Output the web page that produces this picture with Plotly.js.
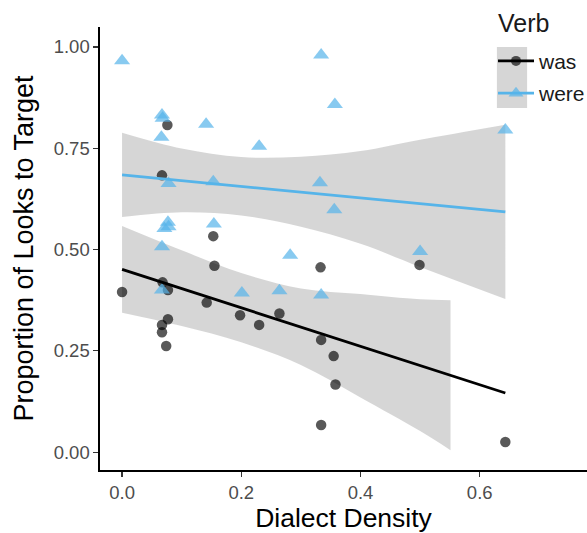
<!DOCTYPE html>
<html>
<head>
<meta charset="utf-8">
<script src="https://cdn.plot.ly/plotly-3.0.1.min.js"></script>
<style>html,body{margin:0;padding:0;background:#fff;}#chart{width:587px;height:533px;}</style>
</head>
<body>
<div id="chart"></div>
<script>
// ---- data ----
const seriesNames = ["was", "were"];
const legendTitle = "Verb";

const wasX = [0.000, 0.067, 0.076, 0.068, 0.077, 0.077, 0.067, 0.067, 0.074, 0.142, 0.153, 0.155, 0.198, 0.230, 0.264, 0.333, 0.334, 0.355, 0.358, 0.334, 0.499, 0.643];
const wasY = [0.395, 0.683, 0.807, 0.419, 0.400, 0.328, 0.314, 0.296, 0.262, 0.369, 0.533, 0.460, 0.338, 0.314, 0.342, 0.456, 0.277, 0.237, 0.167, 0.067, 0.462, 0.025];

const wereX = [0.000, 0.067, 0.068, 0.141, 0.066, 0.230, 0.078, 0.153, 0.077, 0.071, 0.078, 0.154, 0.067, 0.282, 0.067, 0.201, 0.264, 0.334, 0.357, 0.643, 0.332, 0.356, 0.500, 0.334];
const wereY = [0.966, 0.832, 0.824, 0.809, 0.777, 0.755, 0.663, 0.667, 0.567, 0.552, 0.556, 0.563, 0.507, 0.486, 0.400, 0.393, 0.398, 0.980, 0.858, 0.795, 0.665, 0.598, 0.495, 0.388];

// fitted lines (linear smooth) and their confidence bands
const wasFitX = [0, 0.643];
const wasFitY = [0.451, 0.146];
const wasBandX = [0, 0.1, 0.2, 0.3, 0.4, 0.5, 0.551];
const wasBandHi = [0.558, 0.498, 0.442, 0.404, 0.390, 0.377, 0.375];
const wasBandLo = [0.344, 0.311, 0.271, 0.215, 0.135, 0.052, 0.005];

const wereFitX = [0, 0.643];
const wereFitY = [0.684, 0.593];
const wereBandX = [0, 0.1, 0.2, 0.3, 0.4, 0.5, 0.643];
const wereBandHi = [0.788, 0.749, 0.728, 0.729, 0.743, 0.771, 0.808];
const wereBandLo = [0.580, 0.592, 0.584, 0.556, 0.514, 0.457, 0.378];

const xTicks = [0, 0.2, 0.4, 0.6];
const xTickText = ["0.0", "0.2", "0.4", "0.6"];
const yTicks = [0, 0.25, 0.5, 0.75, 1];
const yTickText = ["0.00", "0.25", "0.50", "0.75", "1.00"];

// ---- styling ----
const FONT = "Liberation Sans, Arial, Helvetica, sans-serif";
const bandFill = "rgba(153,153,153,0.4)";
const wasColor = "rgba(0,0,0,0.65)";
const wereColor = "rgba(86,180,233,0.7)";
const wasLine = "#000000";
const wereLine = "#56B4E9";

function band(x, lo, hi, group) {
  return [
    {x: x, y: lo, type: "scatter", mode: "lines", line: {width: 0, shape: "spline", smoothing: 1}, hoverinfo: "skip", showlegend: false, legendgroup: group},
    {x: x, y: hi, type: "scatter", mode: "lines", line: {width: 0, shape: "spline", smoothing: 1}, fill: "tonexty", fillcolor: bandFill, hoverinfo: "skip", showlegend: false, legendgroup: group}
  ];
}

const traces = [].concat(
  band(wereBandX, wereBandLo, wereBandHi, "were"),
  band(wasBandX, wasBandLo, wasBandHi, "was"),
  [
    {x: wasX, y: wasY, type: "scatter", mode: "markers", marker: {symbol: "circle", size: 10.5, color: wasColor, line: {width: 0}}, showlegend: false, legendgroup: "was"},
    {x: wereX, y: wereY, type: "scatter", mode: "markers", marker: {symbol: "triangle-up", size: 14, color: wereColor, line: {width: 0}}, showlegend: false, legendgroup: "were"},
    {x: wasFitX, y: wasFitY, type: "scatter", mode: "lines", line: {color: wasLine, width: 2.8}, showlegend: false, legendgroup: "was"},
    {x: wereFitX, y: wereFitY, type: "scatter", mode: "lines", line: {color: wereLine, width: 2.8}, showlegend: false, legendgroup: "were"},
    // legend entries
    {x: [null], y: [null], type: "scatter", mode: "lines+markers", name: seriesNames[0], legendgroup: "was", line: {color: wasLine, width: 2.8}, marker: {symbol: "circle", size: 10, color: wasColor}},
    {x: [null], y: [null], type: "scatter", mode: "lines+markers", name: seriesNames[1], legendgroup: "were", line: {color: wereLine, width: 2.8}, marker: {symbol: "triangle-up", size: 13, color: wereColor}}
  ]
);

const layout = {
  width: 587, height: 533,
  margin: {l: 100, r: 0, t: 27, b: 63, pad: 0, autoexpand: false},
  paper_bgcolor: "#ffffff", plot_bgcolor: "#ffffff",
  font: {family: FONT, color: "#000"},
  showlegend: true,
  legend: {
    x: 0.807, y: 0.969, xanchor: "left", yanchor: "top",
    bgcolor: "rgba(0,0,0,0)",
    font: {family: FONT, size: 21, color: "#1a1a1a"},
    itemwidth: 36,
    tracegroupgap: 2
  },
  annotations: [
    {text: legendTitle, xref: "paper", yref: "paper", x: 0.813, y: 1.008, xanchor: "left", yanchor: "middle",
     showarrow: false, font: {family: FONT, size: 25, color: "#1a1a1a"}}
  ],
  shapes: [
    {type: "rect", xref: "paper", yref: "paper", x0: 0.815, x1: 0.877, y0: 0.817, y1: 0.955,
     fillcolor: "rgba(153,153,153,0.4)", line: {width: 0}, layer: "below"}
  ],
  xaxis: {
    range: [-0.037, 0.78], autorange: false,
    showline: true, linecolor: "#000", linewidth: 1.6,
    showgrid: false, zeroline: false,
    ticks: "outside", ticklen: 5, tickwidth: 1.3, tickcolor: "#333",
    tickvals: xTicks, ticktext: xTickText,
    tickfont: {family: FONT, size: 18.5, color: "#4d4d4d"},
    title: {text: "Dialect Density", font: {family: FONT, size: 26.5, color: "#000"}, standoff: 4},
    automargin: false
  },
  yaxis: {
    range: [-0.044, 1.049], autorange: false,
    showline: true, linecolor: "#000", linewidth: 1.6,
    showgrid: false, zeroline: false,
    ticks: "outside", ticklen: 5, tickwidth: 1.3, tickcolor: "#333",
    tickvals: yTicks, ticktext: yTickText,
    tickfont: {family: FONT, size: 18.5, color: "#4d4d4d"},
    title: {text: "Proportion of Looks to Target", font: {family: FONT, size: 27, color: "#000"}, standoff: 12},
    automargin: false
  }
};

Plotly.newPlot("chart", traces, layout, {displayModeBar: false, staticPlot: true});
</script>
</body>
</html>
